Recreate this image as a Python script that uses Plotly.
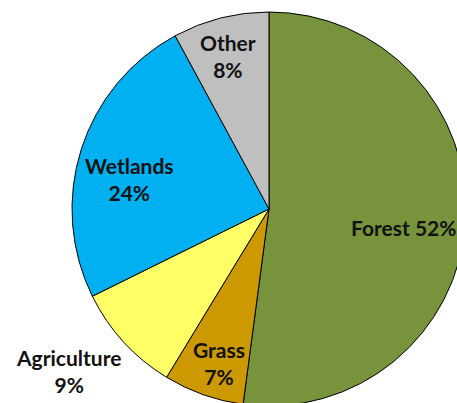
import plotly.graph_objects as go

labels = ["Forest", "Grass", "Agriculture", "Wetlands", "Other"]
# slice sizes, the printed labels are rounded
values = [52.1, 6.6, 9.0, 24.4, 7.9]
colors = ["#77933C", "#CC9900", "#FFFF66", "#00B0F0", "#BFBFBF"]

# the pie runs off the right and bottom of the picture, so the figure is a bit
# bigger than the window and the page gets cropped
W = 466
H = 406

fig = go.Figure(go.Pie(
    labels=labels,
    values=values,
    sort=False,
    direction="clockwise",
    rotation=0,
    marker=dict(colors=colors, line=dict(color="#000000", width=1)),
    textinfo="none",
    hoverinfo="label+percent",
    showlegend=False,
    domain=dict(x=[72 / W, 1.0], y=[0, 394 / H]),
))

# text labels placed the way the original has them
annotations = [
    ("Forest 52%", 403, 227),
    ("Other<br>8%", 228, 56),
    ("Wetlands<br>24%", 129, 179),
    ("Grass<br>7%", 219, 363),
    ("Agriculture<br>9%", 68, 371),
]
for text, x, y in annotations:
    fig.add_annotation(
        text=text, x=x / W, y=1 - y / H, xref="paper", yref="paper",
        showarrow=False, xanchor="center", yanchor="middle",
        font=dict(family="Lato", size=21, color="#111111", weight="bold"),
    )

fig.update_layout(
    width=W, height=H,
    margin=dict(l=0, r=0, t=0, b=0),
    paper_bgcolor="white",
)

fig.write_html(
    "out.html",
    config={"displayModeBar": False},
    post_script="document.body.style.margin='0';document.documentElement.style.overflow='hidden';",
)
